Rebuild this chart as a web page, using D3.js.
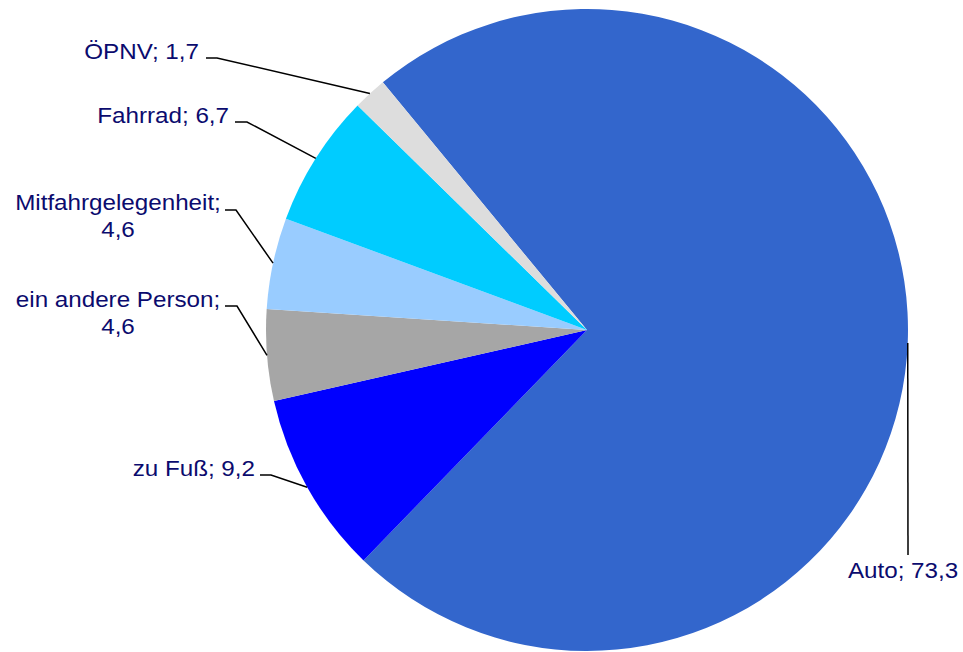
<!DOCTYPE html>
<html lang="de">
<head>
<meta charset="utf-8">
<title>Verkehrsmittelwahl</title>
<script src="https://cdn.jsdelivr.net/npm/d3@7"></script>
<style>
  html, body { margin: 0; padding: 0; background: #ffffff; }
  svg { display: block; }
  .lbl { font-family: "Liberation Sans", Arial, sans-serif; font-size: 22px; fill: #0b0b6e; }
  .leader { fill: none; stroke: #000000; stroke-width: 1.5px; }
</style>
</head>
<body>
<svg id="chart" width="963" height="652"></svg>
<script>
// Anteile der Verkehrsmittel (in %)
const categories = ["Auto", "zu Fuß", "ein andere Person", "Mitfahrgelegenheit", "Fahrrad", "ÖPNV"];
const values     = [73.3, 9.2, 4.6, 4.6, 6.7, 1.7];
const colors     = ["#3366cc", "#0000ff", "#a6a6a6", "#99ccff", "#00ccff", "#dddddd"];

// Beschriftungslayout: Knickpunkt der Führungslinie, Textanker, Zeilen
const labelLayout = [
  { elbow: [908, 555], tail: null,       text: [903, 578], anchor: "middle", split: false },
  { elbow: [271, 475], tail: [260, 475], text: [255, 476], anchor: "end",    split: false },
  { elbow: [237, 306], tail: [225, 306], text: [118, 307], anchor: "middle", split: true  },
  { elbow: [236, 210], tail: [225, 210], text: [118, 210], anchor: "middle", split: true  },
  { elbow: [247, 122], tail: [235, 122], text: [229, 123], anchor: "end",    split: false },
  { elbow: [217, 58],  tail: [206, 58],  text: [199, 59],  anchor: "end",    split: false }
];

const width = 963, height = 652;
const cx = 587, cy = 330, radius = 321;
const startDeg = -39.5;
const textStretch = 1.1; // breitere Laufweite der Beschriftung

const svg = d3.select("#chart");
const data = categories.map((c, i) => ({ name: c, value: values[i], color: colors[i], layout: labelLayout[i] }));

const pie = d3.pie()
  .sort(null)
  .value(d => d.value)
  .startAngle(startDeg * Math.PI / 180)
  .endAngle(startDeg * Math.PI / 180 + 2 * Math.PI);

const arc = d3.arc().innerRadius(0).outerRadius(radius);
const arcs = pie(data);

const g = svg.append("g").attr("transform", `translate(${cx},${cy})`);

g.selectAll("path.slice")
  .data(arcs)
  .join("path")
  .attr("class", "slice")
  .attr("d", arc)
  .attr("fill", d => d.data.color);

// Punkt am Kreisrand in der Mitte des Segments
function edgePoint(d) {
  const a = (d.startAngle + d.endAngle) / 2;
  return [cx + radius * Math.sin(a), cy - radius * Math.cos(a)];
}

const fmt = v => v.toFixed(1).replace(".", ",");

arcs.forEach(d => {
  const L = d.data.layout;
  const p = edgePoint(d);
  const pts = [p, L.elbow];
  if (L.tail) pts.push(L.tail);
  svg.append("path")
    .attr("class", "leader")
    .attr("d", d3.line()(pts));

  const t = svg.append("text")
    .attr("class", "lbl")
    .attr("text-anchor", L.anchor)
    .attr("transform", `translate(${L.text[0]},${L.text[1]}) scale(${textStretch},1)`);
  if (L.split) {
    t.append("tspan").attr("x", 0).text(d.data.name + ";");
    t.append("tspan").attr("x", 0).attr("dy", 27).text(fmt(d.data.value));
  } else {
    t.text(d.data.name + "; " + fmt(d.data.value));
  }
});
</script>
</body>
</html>
